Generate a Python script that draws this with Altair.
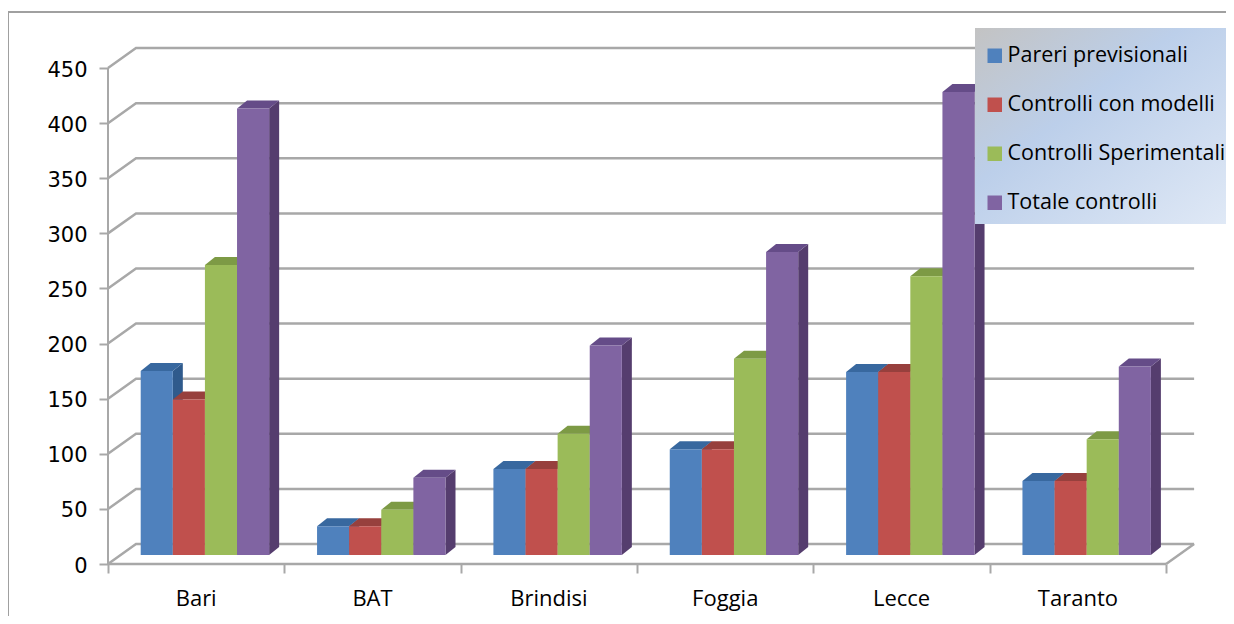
import altair as alt
import pandas as pd

province = ["Bari", "BAT", "Brindisi", "Foggia", "Lecce", "Taranto"]
series = ["Pareri previsionali", "Controlli con modelli", "Controlli Sperimentali", "Totale controlli"]
pareri = [167, 26, 78, 96, 166, 67]
modelli = [141, 26, 78, 96, 166, 67]
sperimentali = [263, 41, 110, 178, 253, 105]
totale = [405, 70, 190, 275, 420, 171]
y_ticks = [0, 50, 100, 150, 200, 250, 300, 350, 400, 450]

front = ["#4f81bd", "#c0504d", "#9bbb59", "#8064a2"]
side = ["#2f5a8c", "#8c3a38", "#71893f", "#553d6e"]
top = ["#38689f", "#97403d", "#7d9a45", "#654c88"]
values = [pareri, modelli, sperimentali, totale]

SLOT = 176.3
UNIT = 1.1022
WALL_X, WALL_Y = 28 / SLOT, 20 / UNIT
BAR_W = 32.1 / SLOT
GROUP_L = 32.7 / SLOT
BASE = 8.2
DX, DY = 10 / SLOT, 8 / UNIT
GRID = "#a8a8a8"

X = alt.X("x:Q", title=None, scale=alt.Scale(domain=[0, 6.3], nice=False, zero=False),
          axis=alt.Axis(values=list(range(7)), domain=False, grid=False, labels=False,
                        tickColor=GRID, tickSize=9, tickWidth=2))
Y = alt.Y("y:Q", title=None, scale=alt.Scale(domain=[0, 480], nice=False, zero=False),
          axis=alt.Axis(values=y_ticks, domain=False, grid=False, tickColor=GRID, tickSize=9,
                        tickWidth=2, labelPadding=12, labelOffset=2, labelFontSize=21,
                        labelFont="DejaVu Sans", labelColor="black"))

one = pd.DataFrame({"a": [0]})

# outer frame
frame = [
    alt.Chart(one).mark_rule(color="#a0a0a0", strokeWidth=2).encode(
        x=alt.value(-100), y=alt.value(-23), y2=alt.value(600)),
    alt.Chart(one).mark_rule(color="#a0a0a0", strokeWidth=2).encode(
        x=alt.value(-101), x2=alt.value(1130), y=alt.value(-23)),
]

# back wall and floor lines
rows = []
for v in y_ticks:
    rows += [{"x": 0, "y": v, "k": v, "o": 0},
             {"x": WALL_X, "y": v + WALL_Y, "k": v, "o": 1},
             {"x": 6 + WALL_X, "y": v + WALL_Y, "k": v, "o": 2}]
rows += [{"x": 6, "y": 0, "k": -1, "o": 0}, {"x": 6 + WALL_X, "y": WALL_Y, "k": -1, "o": 1}]
grid = alt.Chart(pd.DataFrame(rows)).mark_line(color=GRID, strokeWidth=2.5).encode(
    x=X, y=Y, detail="k:N", order="o:Q")

spine_y = alt.Chart(pd.DataFrame({"x": [0], "y": [0], "y2": [450]})).mark_rule(color=GRID, strokeWidth=2).encode(
    x=X, y=Y, y2="y2:Q")
spine_x = alt.Chart(pd.DataFrame({"x": [0], "x2": [6], "y": [0]})).mark_rule(color=GRID, strokeWidth=2.5).encode(
    x=X, x2="x2:Q", y=Y)

# bars
bars = []
for s, name in enumerate(series):
    side_rows, top_rows, front_rows = [], [], []
    for i, v in enumerate(values[s]):
        x0 = i + GROUP_L + s * BAR_W
        x1 = x0 + BAR_W
        t = BASE + v
        g = f"{i}"
        side_rows += [{"x": x1, "y": t, "y2": BASE, "g": g},
                      {"x": x1 + DX, "y": t + DY, "y2": BASE + DY, "g": g}]
        top_rows += [{"x": x0, "y": t, "y2": t, "g": g},
                     {"x": x0 + DX, "y": t + DY, "y2": t, "g": g},
                     {"x": x1, "y": t + DY, "y2": t, "g": g},
                     {"x": x1 + DX, "y": t + DY, "y2": t + DY, "g": g}]
        front_rows.append({"x": x0, "x2": x1, "y": t, "y2": BASE, "serie": name})
    bars.append(alt.Chart(pd.DataFrame(side_rows)).mark_area(color=side[s], orient="vertical").encode(
        x=X, y=Y, y2="y2:Q", detail="g:N"))
    bars.append(alt.Chart(pd.DataFrame(top_rows)).mark_area(color=top[s], orient="vertical").encode(
        x=X, y=Y, y2="y2:Q", detail="g:N"))
    bars.append(alt.Chart(pd.DataFrame(front_rows)).mark_rect().encode(
        x=X, x2="x2:Q", y=Y, y2="y2:Q",
        color=alt.Color("serie:N", scale=alt.Scale(domain=series, range=front),
                        legend=alt.Legend(title=None, orient="none", legendX=876, legendY=10,
                                          symbolType="square", symbolSize=210, symbolStrokeWidth=0,
                                          labelFont="Open Sans", labelFontSize=21.5, labelColor="black",
                                          labelLimit=300, rowPadding=26, padding=0, labelOffset=2))))

# legend background
legend_bg = alt.Chart(one).mark_rect(
    fill=alt.Gradient(gradient="linear", x1=0, y1=0, x2=1, y2=1,
                      stops=[alt.GradientStop(color="#c3c3c3", offset=0),
                             alt.GradientStop(color="#bccfea", offset=0.4),
                             alt.GradientStop(color="#e0e9f6", offset=1)])
).encode(x=alt.value(867), x2=alt.value(1125), y=alt.value(-7), y2=alt.value(189))

labels = alt.Chart(pd.DataFrame({"x": [i + 0.5 for i in range(6)], "t": province})).mark_text(
    font="Open Sans", fontSize=22, color="black", baseline="middle", align="center"
).encode(x=X, y=alt.value(564), text="t:N")

chart = alt.layer(*frame, grid, spine_y, spine_x, *bars, legend_bg, labels).properties(
    width=1111, height=529,
    autosize=alt.AutoSizeParams(type="none"),
    padding={"left": 100, "top": 27, "right": 7, "bottom": 52},
    background="white",
).configure_view(stroke=None)

chart.save("out.html", embed_options={"renderer": "svg", "actions": False})
